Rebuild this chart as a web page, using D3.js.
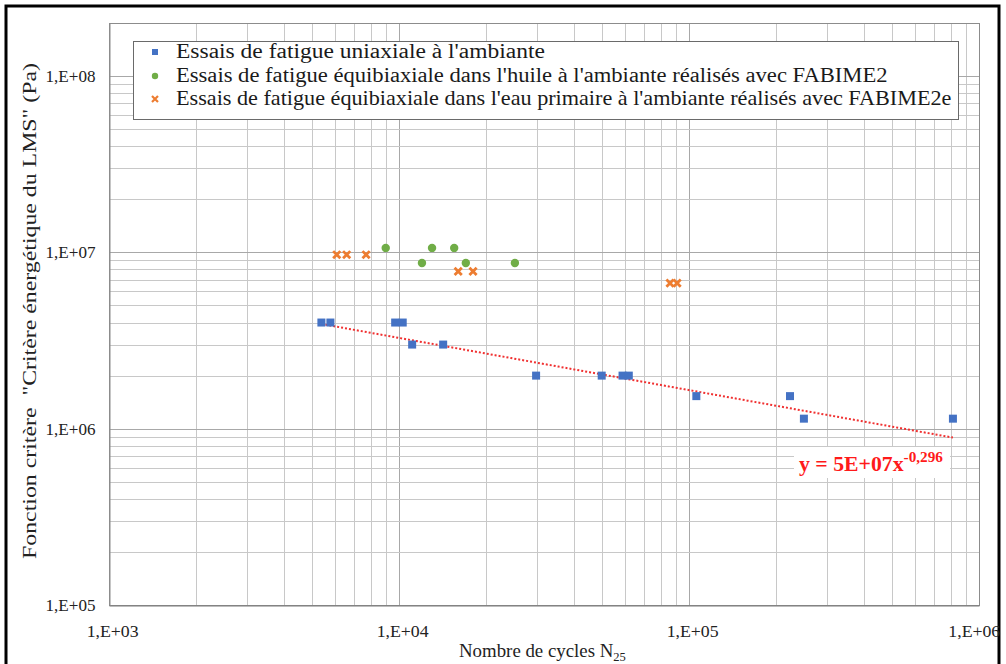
<!DOCTYPE html>
<html><head><meta charset="utf-8">
<script src="https://cdn.jsdelivr.net/npm/d3@7"></script>
<style>
html,body{margin:0;padding:0;background:#fff;}
svg{display:block;}
svg text{font-family:"Liberation Serif","DejaVu Serif",serif;}
</style></head>
<body><svg id="c" width="1006" height="664"></svg>
<script>
// ---- data ----
const seriesNames = [
  "Essais de fatigue uniaxiale à l'ambiante",
  "Essais de fatigue équibiaxiale dans l'huile à l'ambiante réalisés avec FABIME2",
  "Essais de fatigue équibiaxiale dans l'eau primaire à l'ambiante réalisés avec FABIME2e"
];
const uniaxialN = [5.4e3, 5.8e3, 9.7e3, 1.03e4, 1.11e4, 1.42e4, 2.97e4, 5.0e4, 5.9e4, 6.2e4, 1.06e5, 2.23e5, 2.49e5, 8.13e5];
const uniaxialW = [4.0e6, 4.0e6, 4.0e6, 4.0e6, 3.0e6, 3.0e6, 2.0e6, 2.0e6, 2.0e6, 2.0e6, 1.53e6, 1.53e6, 1.14e6, 1.14e6];
const huileN = [9.0e3, 1.30e4, 1.55e4, 1.20e4, 1.70e4, 2.51e4];
const huileW = [1.06e7, 1.06e7, 1.06e7, 8.7e6, 8.7e6, 8.7e6];
const eauN = [6.1e3, 6.6e3, 7.7e3, 1.60e4, 1.80e4, 8.6e4, 9.1e4];
const eauW = [9.7e6, 9.7e6, 9.7e6, 7.8e6, 7.8e6, 6.7e6, 6.7e6];
const trendA = 5e7, trendB = -0.296;
const xTickValues = [1e3, 1e4, 1e5, 1e6];
const xTickLabels = ["1,E+03", "1,E+04", "1,E+05", "1,E+06"];
const yTickValues = [1e5, 1e6, 1e7, 1e8];
const yTickLabels = ["1,E+05", "1,E+06", "1,E+07", "1,E+08"];
const xTitle = "Nombre de cycles N";
const xTitleSub = "25";
const yTitle = "Fonction critère  \"Critère énergétique du LMS\" (Pa)";
const eqMain = "y = 5E+07x";
const eqExp = "-0,296";

// ---- chart ----
const FF = "Liberation Serif, DejaVu Serif, serif";
const svg = d3.select("#c");
const L = 109, R = 979, T = 23, B = 605;
const x = d3.scaleLog().domain([1e3, 1e6]).range([L, R]);
const y = d3.scaleLog().domain([1e5, 2e8]).range([B, T]);

// fit a text node to a target width around an anchor, with optional vertical stretch
function fitXY(node, target, ax, ky = 1, ay = 0) {
  const w = node.getComputedTextLength();
  const k = target / w;
  d3.select(node).attr("transform", `translate(${ax},${ay}) scale(${k},${ky}) translate(${-ax},${-ay})`);
}

// outer frame
svg.append("rect").attr("x", 6).attr("y", 6).attr("width", 993).attr("height", 680)
  .attr("fill", "none").attr("stroke", "#000").attr("stroke-width", 3);

// grid
const g = svg.append("g");
g.selectAll(".vx").data(x.ticks()).join("line")
  .attr("x1", d => Math.round(x(d)) + 0.5).attr("x2", d => Math.round(x(d)) + 0.5)
  .attr("y1", T).attr("y2", B)
  .attr("stroke", d => xTickValues.includes(d) ? "#a8a8a8" : "#c8c8c8").attr("stroke-width", 1);
g.selectAll(".hy").data(y.ticks()).join("line")
  .attr("y1", d => Math.round(y(d)) + 0.5).attr("y2", d => Math.round(y(d)) + 0.5)
  .attr("x1", L).attr("x2", R)
  .attr("stroke", d => yTickValues.includes(d) ? "#a8a8a8" : "#c8c8c8").attr("stroke-width", 1);

// plot border
svg.append("rect").attr("x", L + 0.5).attr("y", T + 0.5).attr("width", R - L).attr("height", B - T)
  .attr("fill", "none").attr("stroke", "#8c8c8c").attr("stroke-width", 1);

// axes
const xAxis = d3.axisBottom(x).tickValues(xTickValues).tickSize(0).tickPadding(19)
  .tickFormat((d, i) => xTickLabels[i]);
const gx = svg.append("g").attr("transform", `translate(0,${B + 0.5})`).call(xAxis)
  .attr("font-family", FF).attr("font-size", 17);
gx.select(".domain").attr("stroke", "#7a7a7a");
gx.selectAll("text").attr("fill", "#222").attr("dx", (d, i) => i === xTickValues.length - 1 ? -5 : 3)
  .each(function () { fitXY(this, 52, 0); });

const yAxis = d3.axisLeft(y).tickValues(yTickValues).tickSize(0).tickPadding(14)
  .tickFormat((d, i) => yTickLabels[i]);
const gy = svg.append("g").attr("transform", `translate(${L + 0.5},0)`).call(yAxis)
  .attr("font-family", FF).attr("font-size", 17);
gy.select(".domain").attr("stroke", "#8c8c8c");
gy.selectAll("text").attr("fill", "#222").each(function () { fitXY(this, 50, -14); });

// axis titles
const xt = svg.append("text").attr("x", 459).attr("y", 657)
  .attr("font-family", FF).attr("font-size", 18).attr("fill", "#222");
xt.append("tspan").text(xTitle);
xt.append("tspan").attr("font-size", 12).attr("dy", 4).text(xTitleSub);
fitXY(xt.node(), 167, 459);

const ytG = svg.append("g").attr("transform", "translate(36,311) rotate(-90)");
const yt = ytG.append("text").attr("x", 0).attr("y", 0).attr("text-anchor", "middle")
  .attr("font-family", FF).attr("font-size", 18).attr("fill", "#222").attr("xml:space", "preserve").text(yTitle);
fitXY(yt.node(), 496, 0);

// trend line
const tn = d3.range(0, 41).map(i => {
  const lo = Math.log10(d3.min(uniaxialN)), hi = Math.log10(d3.max(uniaxialN));
  return Math.pow(10, lo + (hi - lo) * i / 40);
});
svg.append("path").datum(tn)
  .attr("d", d3.line().x(d => x(d)).y(d => y(trendA * Math.pow(d, trendB))))
  .attr("fill", "none").attr("stroke", "#f03030").attr("stroke-width", 2).attr("stroke-dasharray", "2,2");

// points
const uni = uniaxialN.map((n, i) => ({ n, w: uniaxialW[i] }));
const hui = huileN.map((n, i) => ({ n, w: huileW[i] }));
const eau = eauN.map((n, i) => ({ n, w: eauW[i] }));
const sq = 8;
svg.append("g").selectAll("rect").data(uni).join("rect")
  .attr("x", d => x(d.n) - sq / 2).attr("y", d => y(d.w) - sq / 2)
  .attr("width", sq).attr("height", sq).attr("fill", "#4472C4");
svg.append("g").selectAll("circle").data(hui).join("circle")
  .attr("cx", d => x(d.n)).attr("cy", d => y(d.w)).attr("r", 4.2).attr("fill", "#70AD47");
const xs = 3.6;
svg.append("g").selectAll("path").data(eau).join("path")
  .attr("d", d => `M${x(d.n) - xs},${y(d.w) - xs}L${x(d.n) + xs},${y(d.w) + xs}M${x(d.n) - xs},${y(d.w) + xs}L${x(d.n) + xs},${y(d.w) - xs}`)
  .attr("stroke", "#ED7D31").attr("stroke-width", 2.8).attr("fill", "none");

// equation label
svg.append("rect").attr("x", 794).attr("y", 447).attr("width", 156).attr("height", 31).attr("fill", "#fff");
const eq = svg.append("text").attr("x", 799).attr("y", 471).attr("font-family", FF)
  .attr("font-size", 20).attr("font-weight", "bold").attr("fill", "#ff1a1a");
eq.append("tspan").text(eqMain);
eq.append("tspan").attr("font-size", 14).attr("dy", -9).text(eqExp);
fitXY(eq.node(), 144, 799);

// legend
const lg = svg.append("g");
lg.append("rect").attr("x", 133.5).attr("y", 41.5).attr("width", 825).attr("height", 78)
  .attr("fill", "#fff").attr("stroke", "#6a6a6a").attr("stroke-width", 1);
const rowY = [52, 76, 99];
const textEnds = [545, 888, 952];
seriesNames.forEach((s, i) => {
  const cy = rowY[i];
  if (i === 0) lg.append("rect").attr("x", 152).attr("y", cy - 3).attr("width", 6).attr("height", 6).attr("fill", "#4472C4");
  if (i === 1) lg.append("circle").attr("cx", 155).attr("cy", cy).attr("r", 3.2).attr("fill", "#70AD47");
  if (i === 2) lg.append("path").attr("d", `M152,${cy - 3}L158,${cy + 3}M152,${cy + 3}L158,${cy - 3}`)
    .attr("stroke", "#ED7D31").attr("stroke-width", 2.2);
  const by = cy + 6.5;
  const t = lg.append("text").attr("x", 176).attr("y", by).attr("font-family", FF).attr("font-size", 20)
    .attr("fill", "#1a1a1a").text(s);
  fitXY(t.node(), textEnds[i] - 176, 176);
});
</script>
</body></html>
